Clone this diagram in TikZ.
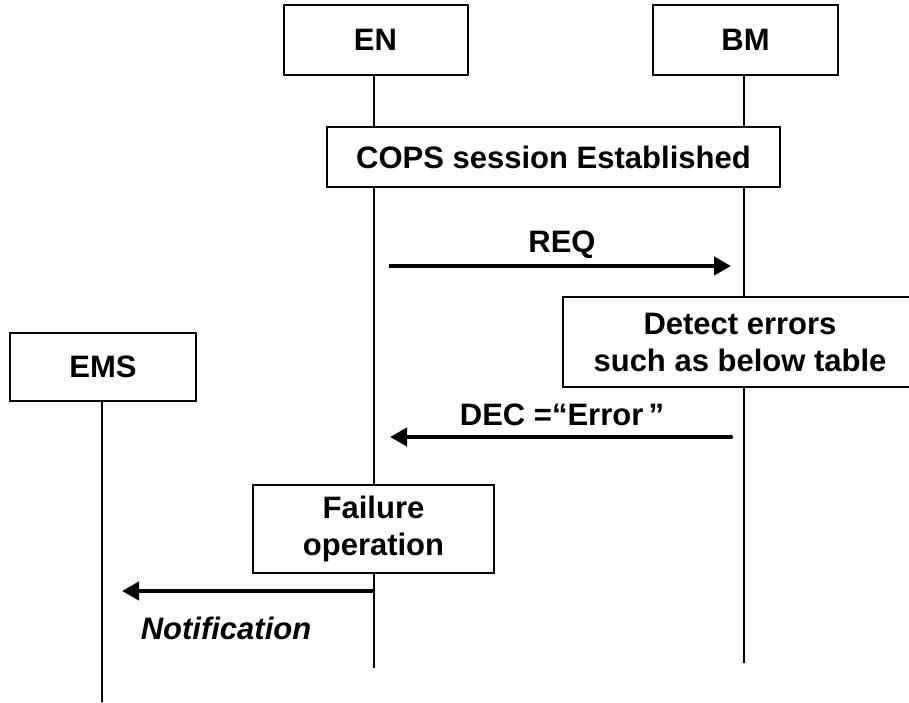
\documentclass[tikz,border=0pt]{standalone}
\usepackage{fontspec}
\setmainfont{Liberation Sans}
\usetikzlibrary{arrows.meta}
\tikzset{
  entity/.style={draw, line width=2pt, fill=white, inner sep=0pt,
    font=\fontsize{31}{37}\selectfont\bfseries, align=center},
  lifeline/.style={line width=2pt},
  msg/.style={line width=4.5pt, -{Triangle[length=17pt,width=18pt]}},
  lbl/.style={font=\fontsize{31}{37}\selectfont\bfseries, inner sep=0pt},
}
\begin{document}
\begin{tikzpicture}[x=1pt,y=-1pt]
\useasboundingbox (0,0) rectangle (909,702);
\clip (0,0) rectangle (909,702);

% lifeline ends
\coordinate (enend) at (374,668);
\coordinate (bmend) at (744,663);
\coordinate (emsend) at (102,702);

% participants
\node[entity, minimum width=184pt, minimum height=70pt] (en) at (375.5,40) {EN};
\node[entity, minimum width=185pt, minimum height=70pt] (bm) at (745.5,40) {BM};
\node[entity, minimum width=186pt, minimum height=68pt] (ems) at (103,367) {EMS};

% lifelines (drawn behind the activity boxes)
\draw[lifeline] (en.south -| enend) -- (enend);
\draw[lifeline] (bm.south -| bmend) -- (bmend);
\draw[lifeline] (ems.south -| emsend) -- (emsend);

% activity boxes
\node[entity, minimum width=453pt, minimum height=60pt] (cops) at (553.5,157) {COPS session Established};
\node[entity, minimum width=354pt, minimum height=90pt] (detect) at (740,342) {Detect errors\\such as below table};
\node[entity, minimum width=241pt, minimum height=88pt] (fail) at (373.5,529) {Failure\\operation};

% message end points
\coordinate (reqa) at (389,266);
\coordinate (reqb) at (731,266);
\coordinate (deca) at (731,437);
\coordinate (decb) at (390,437);
\coordinate (nota) at (374,591);
\coordinate (notb) at (122,591);

\draw[msg] (reqa) -- (reqb);
\draw[msg, line cap=round] (deca) -- (decb);
\draw[msg] (nota) -- (notb);

% message labels
\node[lbl] (reql) at (562,245) {REQ};
\node[lbl] (decl) at (562,415) {DEC =“Error\,”};
\node[lbl, font=\fontsize{31}{37}\selectfont\bfseries\itshape] (notl) at (226,628) {Notification};
\end{tikzpicture}
\end{document}
